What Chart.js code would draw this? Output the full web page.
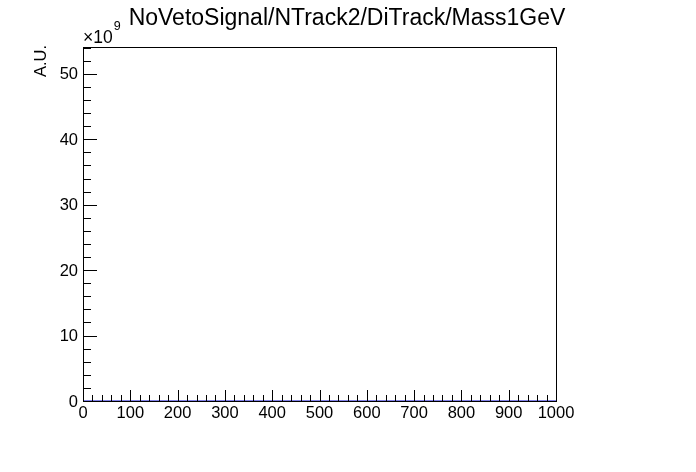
<!DOCTYPE html>
<html>
<head>
<meta charset="utf-8">
<script src="https://cdn.jsdelivr.net/npm/chart.js@4"></script>
<style>
  html, body { margin: 0; padding: 0; background: #fff; }
  #wrap { width: 696px; height: 472px; }
</style>
</head>
<body>
<div id="wrap"><canvas id="histo"></canvas></div>
<script>
// histogram contents (empty signal -> everything sits at zero)
var binEdges = [0, 1000];
var counts = [0, 0];
var xMajorTicks = [0, 100, 200, 300, 400, 500, 600, 700, 800, 900, 1000];
var yMajorTicks = [0, 10, 20, 30, 40, 50];
var yMax = 54.1; // in units of 1e9
var titleText = "NoVetoSignal/NTrack2/DiTrack/Mass1GeV";
var yTitle = "A.U.";

var FONT = "'Liberation Sans', Arial, sans-serif";

// ROOT-like frame, inward ticks and labels, drawn from the chart scales
var rootAxes = {
  id: "rootAxes",
  afterDraw: function (chart) {
    var ctx = chart.ctx;
    var a = chart.chartArea;
    var xs = chart.scales.x, ys = chart.scales.y;
    ctx.save();
    ctx.strokeStyle = "#000";
    ctx.lineWidth = 1;
    ctx.strokeRect(Math.round(a.left) + 0.5, Math.round(a.top) + 0.5,
      Math.round(a.right - a.left), Math.round(a.bottom - a.top));

    // x ticks: major every 100, minor every 20
    ctx.beginPath();
    for (var v = xs.min; v <= xs.max + 0.001; v += 20) {
      var px = Math.round(xs.getPixelForValue(v)) + 0.5;
      var len = (v % 100 === 0) ? 11 : 6;
      ctx.moveTo(px, a.bottom);
      ctx.lineTo(px, a.bottom - len);
    }
    // y ticks: major every 10, minor every 2
    for (var w = 0; w <= ys.max + 0.001; w += 2) {
      var py = Math.round(ys.getPixelForValue(w)) + 0.5;
      var l2 = (w % 10 === 0) ? 14 : 8;
      ctx.moveTo(a.left, py);
      ctx.lineTo(a.left + l2, py);
    }
    ctx.stroke();

    ctx.fillStyle = "#000";
    ctx.font = "16.5px " + FONT;
    ctx.textAlign = "center";
    ctx.textBaseline = "alphabetic";
    xMajorTicks.forEach(function (t) {
      ctx.fillText(String(t), xs.getPixelForValue(t), a.bottom + 17);
    });
    ctx.textAlign = "right";
    ctx.textBaseline = "middle";
    yMajorTicks.forEach(function (t) {
      ctx.fillText(String(t), a.left - 5, ys.getPixelForValue(t) + 1);
    });

    // exponent
    ctx.textAlign = "left";
    ctx.textBaseline = "alphabetic";
    ctx.font = "17.5px " + FONT;
    ctx.fillText("\u00d710", a.left, a.top - 4);
    var wx = ctx.measureText("\u00d710").width;
    ctx.font = "12.5px " + FONT;
    ctx.fillText("9", a.left + wx + 1, a.top - 17);

    // title
    ctx.font = "23px " + FONT;
    ctx.textAlign = "center";
    ctx.fillText(titleText, 347, 25);

    // y axis title, aligned to top of axis
    ctx.save();
    ctx.translate(46, a.top - 2);
    ctx.rotate(-Math.PI / 2);
    ctx.font = "16.5px " + FONT;
    ctx.textAlign = "right";
    ctx.fillText(yTitle, 0, 0);
    ctx.restore();

    ctx.restore();
  }
};

var ctx = document.getElementById("histo").getContext("2d");
var chart = new Chart(ctx, {
  type: "line",
  data: {
    datasets: [
      {
        label: "signal",
        data: binEdges.map(function (e, i) { return { x: e, y: counts[i] }; }),
        borderColor: "#0000cc",
        borderWidth: 1,
        pointRadius: 0,
        stepped: true,
        fill: false
      }
    ]
  },
  options: {
    responsive: true,
    maintainAspectRatio: false,
    animation: false,
    layout: { padding: { left: 83, right: 140, top: 47, bottom: 71 } },
    plugins: { legend: { display: false }, tooltip: { enabled: false } },
    scales: {
      x: { type: "linear", min: 0, max: 1000, display: false },
      y: { type: "linear", min: 0, max: yMax, display: false }
    }
  },
  plugins: [rootAxes]
});
</script>
</body>
</html>
